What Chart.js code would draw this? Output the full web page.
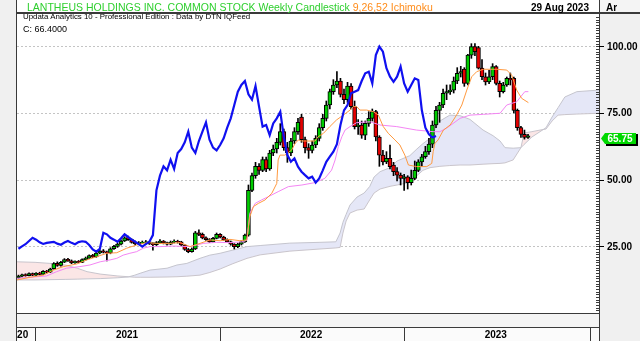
<!DOCTYPE html>
<html>
<head>
<meta charset="utf-8">
<script src="https://cdn.jsdelivr.net/npm/chart.js@4.4.0/dist/chart.umd.min.js"></script>
<style>
  html, body { margin: 0; padding: 0; background: #fff; }
  #wrap { position: relative; width: 640px; height: 341px; overflow: hidden; font-family: "Liberation Sans", Arial, sans-serif; }
  #wrap canvas { position: absolute; left: 0; top: 0; }
  .txt { position: absolute; white-space: nowrap; line-height: 1; }
</style>
</head>
<body>
<div id="wrap">
  <canvas id="lnthChart" width="640" height="341"></canvas>
  <div class="txt" style="left:27px;top:2px;font-size:10.5px;color:#2ecf2e">LANTHEUS HOLDINGS INC. COMMON STOCK Weekly Candlestick <span style="color:#ff8c1a">9,26,52 Ichimoku</span></div>
  <div class="txt" style="right:51px;top:2.5px;font-size:10px;font-weight:bold;color:#000">29 Aug 2023</div>
  <div class="txt" style="left:606px;top:2.5px;font-size:10px;font-weight:bold;color:#000">Ar</div>
  <div class="txt" style="left:23px;top:12.8px;font-size:7.9px;color:#000">Updata Analytics 10 - Professional Edition : Data by DTN IQFeed</div>
  <div class="txt" style="left:23px;top:25px;font-size:9px;color:#000">C: 66.4000</div>
</div>
<script>
// weekly candles, week 0 = late Nov 2020, week 144 = 29 Aug 2023
const opens = [
  13.2,13.8,14.4,14.0,14.8,14.2,15.0,14.6,15.7,15.3,
  16.6,18.6,17.8,19.1,20.1,19.6,18.8,19.4,19.0,20.0,
  20.6,21.6,21.0,22.5,23.3,22.8,22.5,24.1,25.0,25.8,
  27.0,28.3,27.5,26.6,25.9,26.3,26.5,26.7,26.0,25.6,
  26.4,27.0,26.3,25.8,26.6,26.9,26.7,25.5,23.8,23.0,
  24.0,30.1,29.5,28.2,27.5,26.7,28.0,29.5,28.5,27.5,
  26.7,25.8,24.9,25.8,26.7,29.2,46.0,51.5,55.0,53.5,
  57.5,54.0,60.0,61.5,64.0,68.0,62.0,60.0,64.5,68.0,
  73.5,65.0,62.0,61.0,63.0,65.5,69.5,73.0,78.0,83.0,
  85.5,87.0,82.0,80.0,85.1,77.4,69.9,70.5,66.7,71.1,
  73.0,75.5,66.0,59.2,56.7,58.0,55.5,53.0,51.7,50.5,
  51.1,48.9,50.5,53.5,56.7,58.6,60.5,63.3,70.5,76.0,
  78.0,82.4,83.0,83.6,87.0,89.9,91.5,86.1,96.7,99.9,
  99.5,91.8,88.6,86.7,88.6,92.4,86.1,83.0,85.5,88.0,
  88.0,76.0,69.5,67.0,65.8
];
const highs = [
  14.2,14.6,14.7,15.1,15.0,15.2,15.3,15.9,16.0,16.8,
  18.9,19.2,19.4,20.4,20.5,19.9,19.6,19.7,20.3,21.0,
  21.8,22.0,22.8,23.6,23.8,23.2,24.5,25.4,26.2,27.4,
  28.6,28.8,27.8,27.0,26.8,27.0,27.2,26.9,26.4,26.8,
  27.5,27.2,26.6,27.0,27.4,27.3,26.9,25.7,24.2,24.4,
  30.6,31.2,30.0,28.6,27.9,28.4,30.0,29.8,28.8,27.8,
  27.0,26.0,26.2,27.2,29.6,48.0,52.5,56.5,56.0,58.5,
  58.5,61.0,63.0,65.5,71.0,69.0,64.0,65.5,69.5,73.0,
  74.5,66.0,63.5,64.5,66.5,71.0,74.5,79.5,84.0,87.5,
  90.5,88.0,84.0,86.5,86.0,79.5,72.5,72.0,72.0,75.5,
  76.5,76.0,66.5,61.0,60.5,63.0,56.5,54.5,52.5,52.0,
  51.5,53.6,57.0,57.5,59.5,62.5,65.5,72.0,77.5,79.0,
  84.0,85.5,85.6,88.5,92.0,92.5,92.0,97.0,101.0,101.0,
  100.0,95.0,90.0,91.0,93.5,92.8,87.0,86.5,88.5,90.0,
  88.5,76.5,70.0,68.6,67.0
];
const lows = [
  13.0,13.5,13.8,13.9,14.0,14.0,14.3,14.4,15.0,15.2,
  16.4,17.5,17.6,18.9,19.3,18.5,18.6,18.8,18.9,19.8,
  20.4,20.8,20.9,22.2,22.5,19.5,22.2,23.8,24.6,25.5,
  26.8,27.2,26.2,25.5,25.6,26.0,26.2,25.7,23.6,25.3,
  26.1,25.9,25.4,25.6,26.3,26.2,25.2,23.5,22.6,22.8,
  23.8,29.0,27.8,27.2,26.4,26.5,27.8,28.2,27.2,26.4,
  25.4,24.0,24.5,25.5,26.5,28.8,45.5,50.5,52.0,53.0,
  53.0,53.5,59.0,60.0,63.0,61.0,56.5,59.0,63.5,67.0,
  64.0,60.0,58.0,60.0,62.0,64.5,68.5,72.0,76.5,82.0,
  84.5,81.0,78.5,79.0,76.5,69.0,67.0,65.5,65.0,70.0,
  72.0,64.5,55.0,55.5,56.0,54.0,51.5,49.5,48.0,46.0,
  46.5,48.0,50.0,53.0,55.0,58.0,59.5,62.0,69.5,71.5,
  77.0,80.0,82.0,82.5,86.0,88.5,85.0,85.5,95.5,96.5,
  91.5,87.5,85.5,86.0,87.5,85.5,81.0,82.5,85.0,85.5,
  75.0,68.5,65.8,65.2,65.5
];
const closes = [
  13.8,14.3,14.0,14.8,14.2,14.9,14.5,15.6,15.3,16.5,
  18.5,17.8,19.0,20.0,19.6,18.8,19.3,19.0,20.0,20.6,
  21.5,21.0,22.5,23.2,22.8,22.5,24.1,25.0,25.8,27.0,
  28.2,27.5,26.5,25.9,26.3,26.5,26.7,26.0,25.6,26.4,
  27.0,26.3,25.8,26.6,26.9,26.7,25.5,23.8,23.0,24.0,
  30.1,29.5,28.2,27.5,26.7,28.0,29.5,28.5,27.5,26.7,
  25.8,24.9,25.8,26.7,29.2,46.0,51.5,55.0,53.5,57.5,
  54.0,60.0,61.5,64.0,68.0,62.0,60.0,64.5,68.0,71.5,
  65.0,62.0,61.0,63.0,65.5,69.5,73.0,78.0,83.0,85.5,
  87.0,82.0,80.0,85.1,77.4,69.9,70.5,66.7,71.1,73.0,
  75.5,66.0,59.2,56.7,58.0,54.9,53.0,51.7,50.5,51.1,
  48.9,50.5,53.5,56.7,58.6,60.5,63.3,70.5,76.0,78.0,
  82.4,83.0,83.6,87.0,89.9,90.5,86.1,96.7,99.9,98.0,
  91.8,88.6,86.7,88.6,92.4,86.1,83.0,85.5,88.0,87.4,
  76.0,69.5,67.0,65.8,66.4
];

// Ichimoku lines (week index, value)
const tenkanWeeks = [-0.4,3.3,7.0,9.9,12.7,16.5,19.3,22.1,25.0,27.8,30.6,33.4,36.3,39.1,42.8,45.7,48.5,51.3,54.1,57.0,59.8,62.6,64.5,65.4,66.4,67.8,69.7,71.6,73.0,73.4,73.9,75.3,77.2,78.2,79.1,80.1,83.8,84.7,86.2,88.0,89.9,91.8,93.7,94.6,95.6,96.5,98.4,100.3,101.7,103.1,104.5,106.4,107.8,109.2,110.2,112.5,115.4,116.8,117.2,117.7,118.6,120.1,122.0,123.8,125.3,126.7,128.1,129.5,131.4,135.2,138.0,139.4,140.8,142.2,144.1];
const tenkanValues = [12.4,13.4,14.2,16.1,17.4,18.4,19.9,21.1,22.4,22.6,24.3,25.5,26.4,26.1,26.1,26.4,24.9,26.1,27.4,27.1,27.6,27.1,27.4,36.1,39.9,41.1,42.4,44.9,48.6,57.4,59.2,59.2,61.1,63.6,64.9,64.5,64.5,66.1,67.4,69.9,72.4,74.2,76.1,77.4,77.4,76.1,76.1,75.5,74.2,69.9,67.4,64.9,63.0,59.2,55.5,54.9,54.9,56.1,60.5,63.6,64.9,68.6,70.5,74.2,78.0,83.6,88.6,90.5,91.4,91.4,91.1,89.2,83.6,80.5,78.9];

const kijunWeeks = [-0.4,5.2,8.0,10.8,13.6,17.4,20.2,23.1,25.9,27.8,29.6,31.5,33.4,35.3,37.2,40.0,43.8,48.5,50.4,52.2,56.0,59.8,63.5,64.6,65.4,66.9,68.7,70.6,73.4,76.3,80.1,83.8,86.6,88.5,89.5,90.4,91.4,92.3,93.7,95.6,99.4,102.2,106.9,112.5,117.2,119.1,121.0,124.8,127.6,131.4,136.1,138.0,140.8,143.1,144.1];
const kijunValues = [13.0,13.6,13.9,15.5,16.8,17.4,18.0,19.2,19.9,20.5,21.7,22.4,23.0,24.3,24.9,24.9,25.1,24.9,25.5,26.1,26.5,26.4,26.7,27.4,37.4,41.1,42.4,43.6,45.5,47.4,48.0,48.9,50.5,53.6,57.4,62.4,66.1,68.6,69.9,71.4,71.7,70.5,69.9,68.6,68.0,68.0,69.3,73.0,74.2,74.5,74.9,78.0,79.2,83.0,83.0];

// cloud (senkou span A / B), already shifted 26 weeks ahead
const cloudWeeks = [-0.4,4.7,8.9,13.2,16.6,19.4,23.1,27.9,31.0,32.9,34.4,37.2,42.0,44.8,47.6,51.3,54.1,57.0,60.6,64.6,68.3,76.7,85.2,89.7,90.9,91.7,92.6,93.7,95.7,97.7,99.3,100.5,102.2,105.0,107.0,110.6,112.6,114.3,116.3,119.1,121.9,124.8,127.6,131.3,134.1,136.1,137.5,139.8,142.0,142.9,145.1,147.4,149.1,150.8,152.5,154.4,157.8,164.1];
const senkouA = [12.4,12.4,12.5,12.6,12.7,12.8,12.9,13.2,13.5,14.2,14.9,16.1,16.8,18.0,18.6,20.5,21.7,22.4,23.6,24.9,25.3,26.2,26.5,26.7,30.0,34.0,37.0,40.5,43.5,45.0,47.5,51.0,53.0,54.5,57.0,59.0,61.5,63.5,65.5,72.0,74.2,74.0,72.6,68.6,66.5,64.5,62.0,61.8,62.0,63.2,66.0,68.0,69.5,73.5,77.0,81.0,83.0,83.6];
const senkouB = [19.2,19.0,18.6,18.0,16.8,15.5,14.6,13.9,13.6,13.4,13.4,13.4,13.5,13.6,13.8,14.2,15.2,16.5,18.5,20.5,21.8,23.2,24.0,24.4,24.6,30.0,34.5,37.5,38.6,39.0,42.5,45.0,46.5,47.5,48.0,49.0,51.5,53.5,54.5,55.0,55.3,55.5,55.5,55.8,56.0,56.1,56.3,57.4,62.0,67.5,68.0,68.6,69.0,72.0,74.2,74.4,74.6,74.9];

// axis labels
const yTicks = [25, 50, 75, 100];
const yearLabels = ['20', '2021', '2022', '2023'];
const yearMid = [1.2, 30.7, 82.7, 134.9];
const yearStarts = [4.69, 56.97, 108.96, 161.52];
const lastLabel = 65.75;

const chikouShift = 26;

const xy = (ws, vs) => ws.map((w, k) => ({ x: w, y: vs[k] }));

const wickData = closes.map((c, i) => ({ x: i, y: [lows[i], highs[i]] }));
const bodyData = closes.map((c, i) => ({ x: i, y: [opens[i], c] }));
const bodyColors = closes.map((c, i) => c >= opens[i] ? '#00cc00' : '#e60000');
const chikouData = closes.slice(chikouShift).map((c, k) => ({ x: k, y: c }));

// frame, grid, right axis, year row, price tag
const decor = {
  id: 'decor',
  beforeDraw(chart) {
    const { ctx, chartArea: a, scales: { y } } = chart;
    ctx.save();
    ctx.fillStyle = '#ffffff';
    ctx.fillRect(0, 0, 640, 341);
    ctx.fillStyle = '#f0f0f0';
    ctx.fillRect(0, 0, a.left, 341);
    ctx.fillRect(a.right, a.top, 640 - a.right, 341 - a.top);
    ctx.fillStyle = '#f4f4f4';
    ctx.fillRect(a.right, 0, 640 - a.right, a.top);
    ctx.fillRect(a.left, a.bottom, a.right - a.left, 14);
    ctx.fillStyle = '#fbfbfb';
    ctx.fillRect(a.left, a.bottom + 14, a.right - a.left, 14);
    // dotted grid
    ctx.strokeStyle = '#c4c4c4';
    ctx.lineWidth = 1;
    ctx.setLineDash([2, 2]);
    yTicks.forEach(v => {
      const py = Math.round(y.getPixelForValue(v)) + 0.5;
      ctx.beginPath(); ctx.moveTo(a.left, py); ctx.lineTo(a.right, py); ctx.stroke();
    });
    ctx.restore();
  },
  afterDraw(chart) {
    const { ctx, chartArea: a, scales: { x, y } } = chart;
    const line = (x1, y1, x2, y2) => { ctx.beginPath(); ctx.moveTo(x1, y1); ctx.lineTo(x2, y2); ctx.stroke(); };
    ctx.save();
    ctx.strokeStyle = '#3a3a3a';
    ctx.lineWidth = 1;
    // outer lines
    line(16.5, 0, 16.5, 341);
    ctx.fillStyle = '#3a3a3a';
    ctx.fillRect(a.left, a.top - 1, 640 - a.left, 2);
    line(a.right + 0.5, 0, a.right + 0.5, a.top);
    line(a.left, a.bottom + 0.5, a.right, a.bottom + 0.5);
    line(a.left, a.bottom + 14.5, a.right, a.bottom + 14.5);
    line(a.right + 0.5, a.top, a.right + 0.5, 341);
    // year row separators
    yearStarts.forEach(w => {
      const px = Math.round(x.getPixelForValue(w)) + 0.5;
      line(px, a.bottom + 14, px, 341);
    });
    // right axis ticks
    for (let v = 1; v < 112; v++) {
      const py = Math.round(y.getPixelForValue(v)) + 0.5;
      line(a.right - 3, py, a.right, py);
    }
    ctx.strokeStyle = '#000';
    yTicks.forEach(v => {
      const py = Math.round(y.getPixelForValue(v)) + 0.5;
      line(a.right, py, a.right + 5, py);
    });
    // labels
    ctx.fillStyle = '#000';
    ctx.font = 'bold 10px "Liberation Sans", Arial, sans-serif';
    ctx.textBaseline = 'middle';
    ctx.textAlign = 'left';
    yTicks.forEach(v => ctx.fillText(v.toFixed(2), a.right + 8, y.getPixelForValue(v) + 0.5));
    ctx.textAlign = 'center';
    yearLabels.forEach((t, k) => ctx.fillText(t, x.getPixelForValue(yearMid[k]), a.bottom + 22));
    // last price tag
    const ty = Math.round(y.getPixelForValue(lastLabel));
    ctx.fillStyle = '#000';
    ctx.fillRect(a.right + 7, ty - 4, 32, 12);
    ctx.fillStyle = '#00d800';
    ctx.beginPath();
    ctx.moveTo(a.right + 2, ty + 0.5);
    ctx.lineTo(a.right + 6, ty - 5);
    ctx.lineTo(a.right + 37, ty - 5);
    ctx.lineTo(a.right + 37, ty + 6);
    ctx.lineTo(a.right + 6, ty + 6);
    ctx.closePath();
    ctx.fill();
    ctx.fillStyle = '#fff';
    ctx.fillText(lastLabel.toFixed(2), a.right + 21, ty + 1);
    ctx.restore();
  }
};

new Chart(document.getElementById('lnthChart'), {
  type: 'bar',
  data: {
    datasets: [
      {
        type: 'line', label: 'Chikou', data: chikouData, order: 0,
        borderColor: '#1010f0', borderWidth: 2.2, pointRadius: 0, tension: 0
      },
      {
        type: 'line', label: 'Tenkan', data: xy(tenkanWeeks, tenkanValues), order: 1,
        borderColor: '#ff9a40', borderWidth: 1, pointRadius: 0, tension: 0
      },
      {
        type: 'line', label: 'Kijun', data: xy(kijunWeeks, kijunValues), order: 2,
        borderColor: '#f486f4', borderWidth: 1, pointRadius: 0, tension: 0
      },
      {
        type: 'bar', label: 'Body', data: bodyData, order: 3, grouped: false,
        barThickness: 4, backgroundColor: bodyColors, borderColor: '#000', borderWidth: 1, borderSkipped: false
      },
      {
        type: 'bar', label: 'Wick', data: wickData, order: 4, grouped: false,
        barThickness: 1, backgroundColor: '#000', borderWidth: 0
      },
      {
        type: 'line', label: 'Senkou A', data: xy(cloudWeeks, senkouA), order: 10,
        borderColor: '#c5c5ce', borderWidth: 1, pointRadius: 0, tension: 0,
        fill: { target: '+1', above: '#e5e7f7', below: '#fbe6e6' }
      },
      {
        type: 'line', label: 'Senkou B', data: xy(cloudWeeks, senkouB), order: 11,
        borderColor: '#c9c5cc', borderWidth: 1, pointRadius: 0, tension: 0
      }
    ]
  },
  options: {
    responsive: false,
    animation: false,
    layout: { padding: { left: 17, top: 13, right: 41, bottom: 28 } },
    scales: {
      x: { type: 'linear', display: false, min: -0.4, max: 164.06, offset: false },
      y: { display: false, min: 0, max: 112.5 }
    },
    plugins: {
      legend: { display: false },
      tooltip: { enabled: false },
      filler: { drawTime: 'beforeDatasetsDraw' }
    }
  },
  plugins: [decor]
});
</script>
</body>
</html>
